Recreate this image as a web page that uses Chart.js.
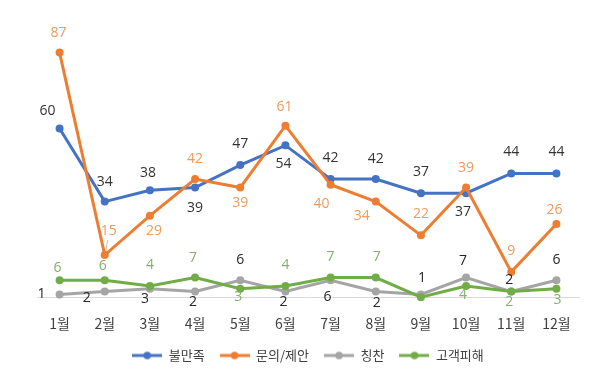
<!DOCTYPE html>
<html><head><meta charset="utf-8">
<script src="https://cdn.jsdelivr.net/npm/chart.js@4.4.1/dist/chart.umd.min.js"></script>
<style>html,body{margin:0;padding:0;background:#fff;}</style>
</head><body>
<canvas id="c" width="616" height="383" style="display:block;width:616px;height:383px"></canvas>
<script>
// ---- data ----
const months = ['1월','2월','3월','4월','5월','6월','7월','8월','9월','10월','11월','12월'];
const seriesNames = ['불만족','문의/제안','칭찬','고객피해'];
const dissatisfied = [60,34,38,39,47,54,42,42,37,37,44,44];
const inquiry = [87,15,29,42,39,61,40,34,22,39,9,26];
const praise = [1,2,3,2,6,2,6,2,1,7,2,6];
const damage = [6,6,4,7,3,4,7,7,0,4,2,3];

// ---- styles ----
const lineColors = ['#4472C4','#ED7D31','#A5A5A5','#70AD47'];
const labelColors = ['#333333','#EE9B5E','#262626','#86AE6C'];
// label offsets (dx, dy) in px from each point; null = no label
const labelOffsets = [
  [[-12,-17],[0,-20],[-2,-17],[0,20],[0,-21],[-2,19],[0,-21],[0,-20],[0,-21],[-3,19],[0,-21],[0,-21]],
  [[-1,-20],[4,-24],[4,15],[0,-20],[0,15],[-1,-19],[-9,19],[-14,14],[0,-21],[0,-20],[0,-21],[-2,-14]],
  [[-18,0],[-18,6],[-5,10],[-2,10],[0,-20],[-2,10],[-3,17],[1,11],[1,-16],[-3,-17],[-2,-12],[0,-20]],
  [[-2,-12],[-2,-14],[0,-21],[-2,-20],[-2,8],[0,-21],[0,-21],[1,-21],null,[-3,9],[-2,10],[1,11]]
];

function markerImage(color){
  const c = document.createElement('canvas');
  c.width = 30; c.height = 10;
  const g = c.getContext('2d');
  g.strokeStyle = color; g.lineWidth = 3;
  g.beginPath(); g.moveTo(0,5); g.lineTo(30,5); g.stroke();
  g.fillStyle = color; g.beginPath(); g.arc(15,5,3.8,0,Math.PI*2); g.fill();
  return c;
}

const labelPlugin = {
  id: 'pointLabels',
  afterDatasetsDraw(chart){
    const ctx = chart.ctx;
    ctx.save();
    ctx.font = "14px 'Open Sans', 'Noto Sans', sans-serif";
    ctx.textAlign = 'center';
    ctx.textBaseline = 'middle';
    chart.data.datasets.forEach((ds, di) => {
      const meta = chart.getDatasetMeta(di);
      meta.data.forEach((pt, i) => {
        const off = labelOffsets[di][i];
        if (!off) return;
        ctx.fillStyle = labelColors[di];
        ctx.fillText(String(ds.data[i]), pt.x + off[0], pt.y + off[1]);
      });
    });
    // leader line for inquiry Feb label
    const p = chart.getDatasetMeta(1).data[1];
    ctx.strokeStyle = '#F2B48A'; ctx.lineWidth = 1;
    ctx.beginPath(); ctx.moveTo(p.x + 3, p.y - 15); ctx.lineTo(p.x + 1, p.y - 4); ctx.stroke();
    ctx.restore();
  }
};

const allSeries = [dissatisfied, inquiry, praise, damage];
const datasets = allSeries.map((d, i) => ({
  label: seriesNames[i],
  data: d,
  borderColor: lineColors[i],
  backgroundColor: lineColors[i],
  pointBackgroundColor: lineColors[i],
  pointBorderColor: lineColors[i],
  borderWidth: 3,
  pointRadius: 4,
  pointBorderWidth: 0,
  tension: 0,
  order: 4 - i,
  clip: false
}));

new Chart(document.getElementById('c'), {
  type: 'line',
  data: { labels: months, datasets },
  options: {
    responsive: false,
    animation: false,
    devicePixelRatio: 1,
    layout: { padding: { left: 37, right: 37, top: 16, bottom: 11 } },
    plugins: {
      tooltip: { enabled: false },
      legend: {
        position: 'bottom',
        labels: {
          usePointStyle: true,
          pointStyleWidth: 30,
          boxHeight: 10,
          padding: 15,
          color: '#404040',
          font: { family: "'Noto Sans CJK KR', sans-serif", size: 13 },
          sort: (a, b) => a.datasetIndex - b.datasetIndex,
          generateLabels(chart){
            const items = Chart.defaults.plugins.legend.labels.generateLabels(chart);
            items.forEach(it => { it.pointStyle = markerImage(lineColors[it.datasetIndex]); });
            return items;
          }
        }
      }
    },
    scales: {
      x: {
        offset: true,
        grid: { display: false, drawTicks: false },
        border: { display: true, color: '#D9D9D9', width: 1 },
        ticks: { color: '#404040', padding: 18, font: { family: "'Noto Sans CJK KR', sans-serif", size: 14 } },
        afterFit(scale){ scale.height -= 16; }
      },
      y: { display: false, min: 0, max: 100 }
    }
  },
  plugins: [labelPlugin]
});
</script>
</body></html>
